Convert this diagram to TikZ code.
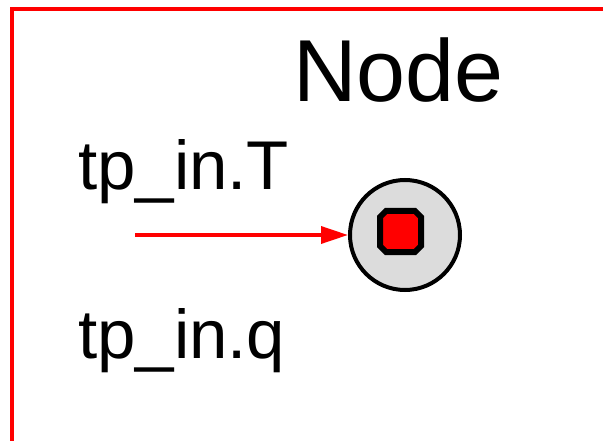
\documentclass[tikz,border=0pt]{standalone}
\usepackage{fontspec}
\setmainfont{Liberation Sans}
\usepackage{xcolor}
\usetikzlibrary{arrows.meta, positioning}

\definecolor{portgray}{RGB}{220,220,220}

\begin{document}
\begin{tikzpicture}[
            x=1pt, y=-1pt,
            frame/.style={draw=red, line width=4.5pt},
            port/.style={circle, draw, line width=4pt, fill=portgray, minimum size=110pt, inner sep=0pt},
            label/.style={anchor=base west, inner sep=0pt, font=\fontsize{69}{69}\selectfont},
            flow/.style={draw=red, line width=3.5pt, -{Triangle[length=27pt, width=17pt]}}
        ]
        \useasboundingbox (0,0) rectangle (603,441);
        \clip (0,0) rectangle (603,441);

        % Component frame
        \draw[frame] (12,9) rectangle (700,520);
        \node[anchor=base west, inner sep=0pt, font=\fontsize{88}{88}\selectfont] (title) at (293,102) {Node};

        % Connector variables
        \node[label] (temp) at (78,190) {tp\_in.T};
        \node[label] (heat) at (78,358) {tp\_in.q};

        % Port with its inner square
        \node[port] (tp) at (405,235) {};
        \draw[line width=6pt, fill=red]
            (386,211) -- (415,211) -- (421,217) -- (421,246) -- (415,252)
            -- (386,252) -- (380,246) -- (380,217) -- cycle;

        % Connection
        \coordinate (src) at (135,235);
        \draw[flow] (src) -- (tp.west);

    \end{tikzpicture}
\end{document}
